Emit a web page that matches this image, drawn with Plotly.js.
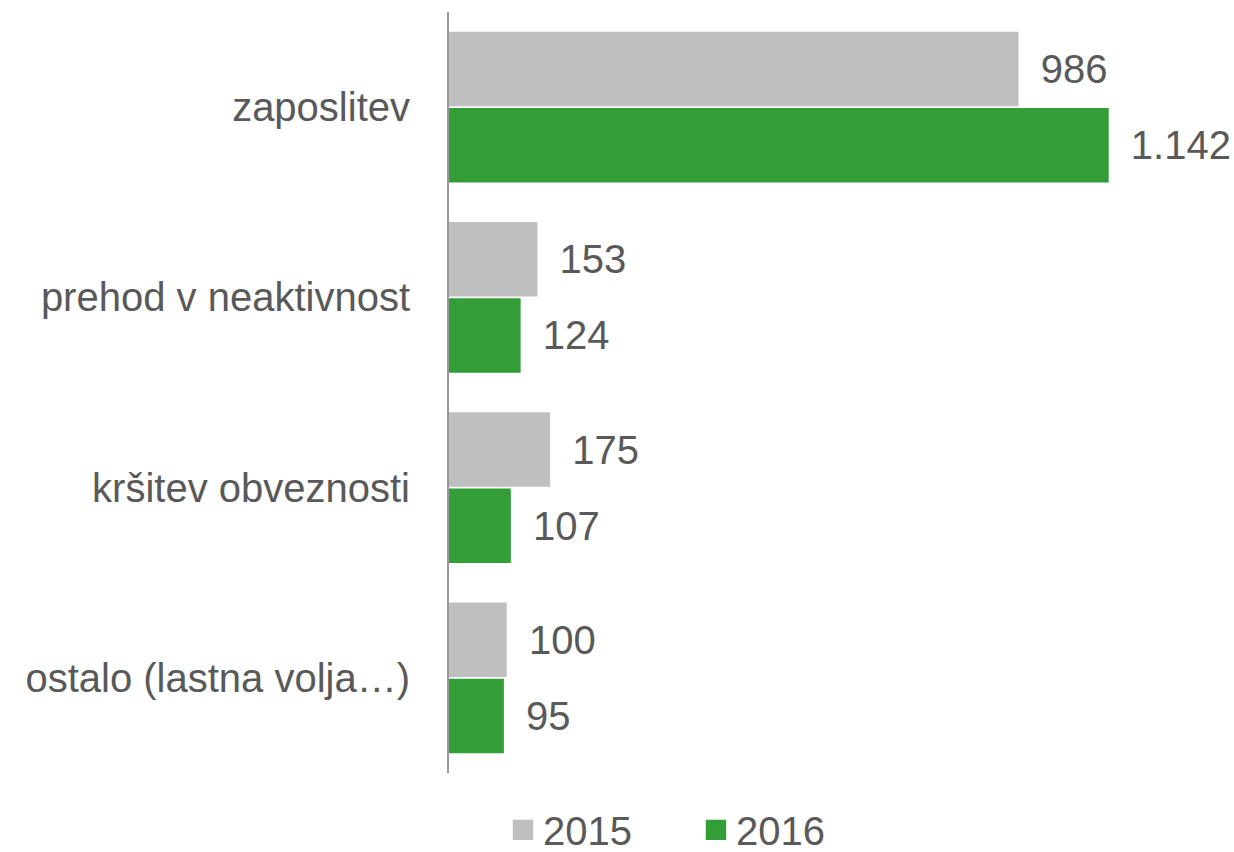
<!DOCTYPE html>
<html>
<head>
<meta charset="utf-8">
<script src="https://cdn.plot.ly/plotly-3.0.1.min.js"></script>
<style>
  html, body { margin: 0; padding: 0; background: #fff; }
  #chart { width: 1234px; height: 852px; }
</style>
</head>
<body>
<div id="chart"></div>
<script>
// categories and values
var categories = ["zaposlitev", "prehod v neaktivnost", "kršitev obveznosti", "ostalo (lastna volja…)"];
var years = ["2015", "2016"];
var values2015 = [986, 153, 175, 100];
var values2016 = [1142, 124, 107, 95];

var textColor = '#595959';
var pad = '\u00a0\u2009';

function barTrace(name, vals, color) {
    return {
        type: 'bar',
        orientation: 'h',
        name: name,
        y: categories,
        x: vals,
        marker: { color: color },
        text: vals,
        texttemplate: pad + '%{x:,}',
        textposition: 'outside',
        cliponaxis: false,
        textfont: { family: 'Liberation Sans, Arial, sans-serif', size: 40, color: textColor },
        hoverinfo: 'x+y'
    };
}

var data = [
    barTrace(years[0], values2015, '#BFBFBF'),
    barTrace(years[1], values2016, '#339E37')
];

var layout = {
    width: 1234,
    height: 852,
    margin: { l: 449, r: 34, t: 12, b: 79 },
    paper_bgcolor: '#fff',
    plot_bgcolor: '#fff',
    separators: ',.',
    barmode: 'group',
    bargap: 0.2,
    bargroupgap: 0.02,
    font: { family: 'Liberation Sans, Arial, sans-serif', size: 40, color: textColor },
    xaxis: {
        range: [0, 1300],
        visible: false,
        showgrid: false,
        zeroline: false
    },
    yaxis: {
        autorange: 'reversed',
        showline: true,
        linecolor: '#999999',
        linewidth: 2,
        ticks: '',
        showgrid: false,
        ticklabelstandoff: 29,
        tickfont: { size: 40, color: textColor }
    },
    showlegend: true,
    legend: {
        orientation: 'h',
        xref: 'container',
        yref: 'container',
        x: 0.564,
        xanchor: 'center',
        y: 0.026,
        yanchor: 'middle',
        entrywidth: 148,
        font: { size: 40, color: textColor },
        itemclick: false
    }
};

Plotly.newPlot('chart', data, layout, { displayModeBar: false, staticPlot: true }).then(function (gd) {
    // bigger legend squares, like the original
    gd.querySelectorAll('.legendpoints path').forEach(function (p) {
        var t = p.getAttribute('transform') || '';
        p.setAttribute('transform', t + ' scale(1.7)');
    });
});
</script>
</body>
</html>
